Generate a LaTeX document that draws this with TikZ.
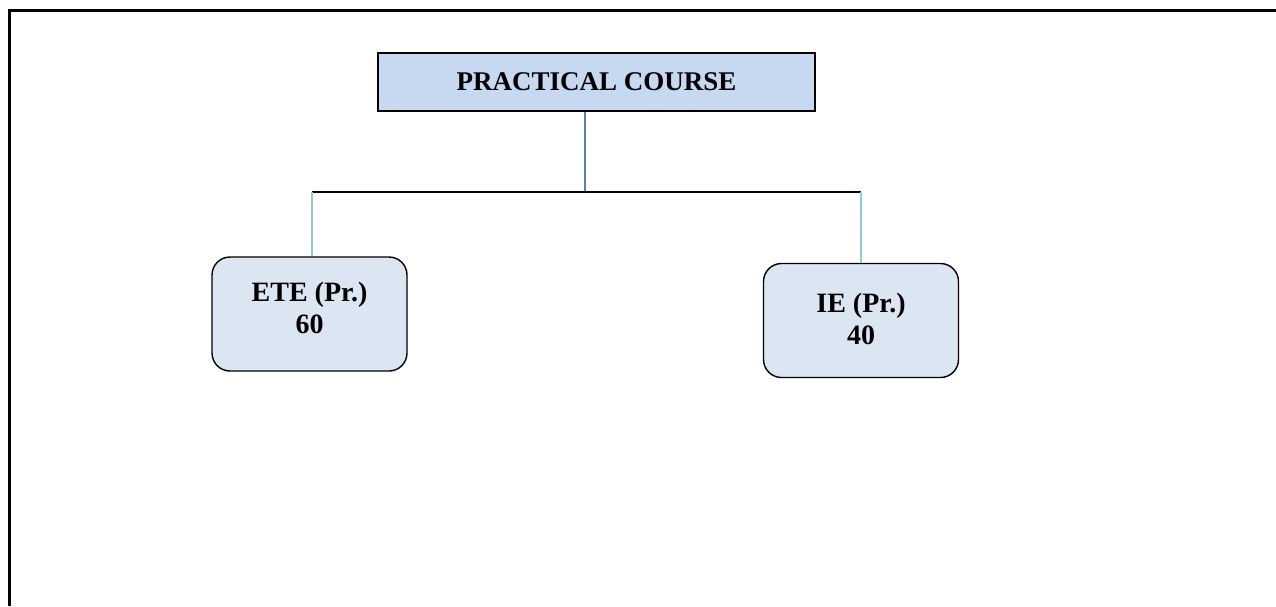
\documentclass[tikz,border=0pt]{standalone}
\usepackage{fontspec}
\setmainfont{Liberation Serif}
\usetikzlibrary{calc}
\usetikzlibrary{positioning}

\definecolor{headFill}{HTML}{C6D9F1}
\definecolor{markFill}{HTML}{DCE6F2}
\definecolor{trunkBlue}{HTML}{4F81BD}
\definecolor{dropBlue}{HTML}{92CDDC}

\tikzset{
	headbox/.style={draw=black, line width=1.6pt, fill=headFill, minimum width=437pt, minimum height=58pt, inner sep=0pt},
	markbox/.style={draw=black, line width=1.4pt, fill=markFill, rounded corners=18pt, minimum width=195pt, minimum height=114pt, inner sep=0pt},
	marktext/.style={align=center, inner sep=0pt, font=\fontsize{28}{32}\selectfont\bfseries},
}

\begin{document}
\begin{tikzpicture}[x=1pt,y=-1pt]

	\useasboundingbox (0,0) rectangle (1276,606);

	% page frame (top and left edge only)
	\draw [line width=3pt] (9,606) -- (9,10) -- (1276,10);

	% course box
	\node [headbox] (course) at (596.5,82) {};
	\node [font=\fontsize{27}{32}\selectfont\bfseries, inner sep=0pt] (courseText) at (course.center) {PRACTICAL COURSE};

	% split level
	\def \splitAltitude {192};
	\coordinate (split) at (585,\splitAltitude);
	\coordinate (eteTop) at (312,\splitAltitude);
	\coordinate (ieTop) at (861,\splitAltitude);

	% mark boxes
	\node [markbox] (ete) at (309.5,314) {};
	\node [marktext] (eteText) at ($(ete.center)+(0,-6.5)$) {ETE (Pr.)\\60};

	\node [markbox] (ie) at (861,320.5) {};
	\node [marktext] (ieText) at ($(ie.center)+(0,-2)$) {IE (Pr.)\\40};

	% connectors
	\draw [trunkBlue, line width=2.7pt] (split |- course.south) -- (split);
	\draw [black, line width=1.3pt] (eteTop) -- (ieTop);
	\draw [dropBlue, line width=2pt] (eteTop) -- (eteTop |- ete.north);
	\draw [dropBlue, line width=2pt] (ieTop) -- (ieTop |- ie.north);

\end{tikzpicture}
\end{document}
